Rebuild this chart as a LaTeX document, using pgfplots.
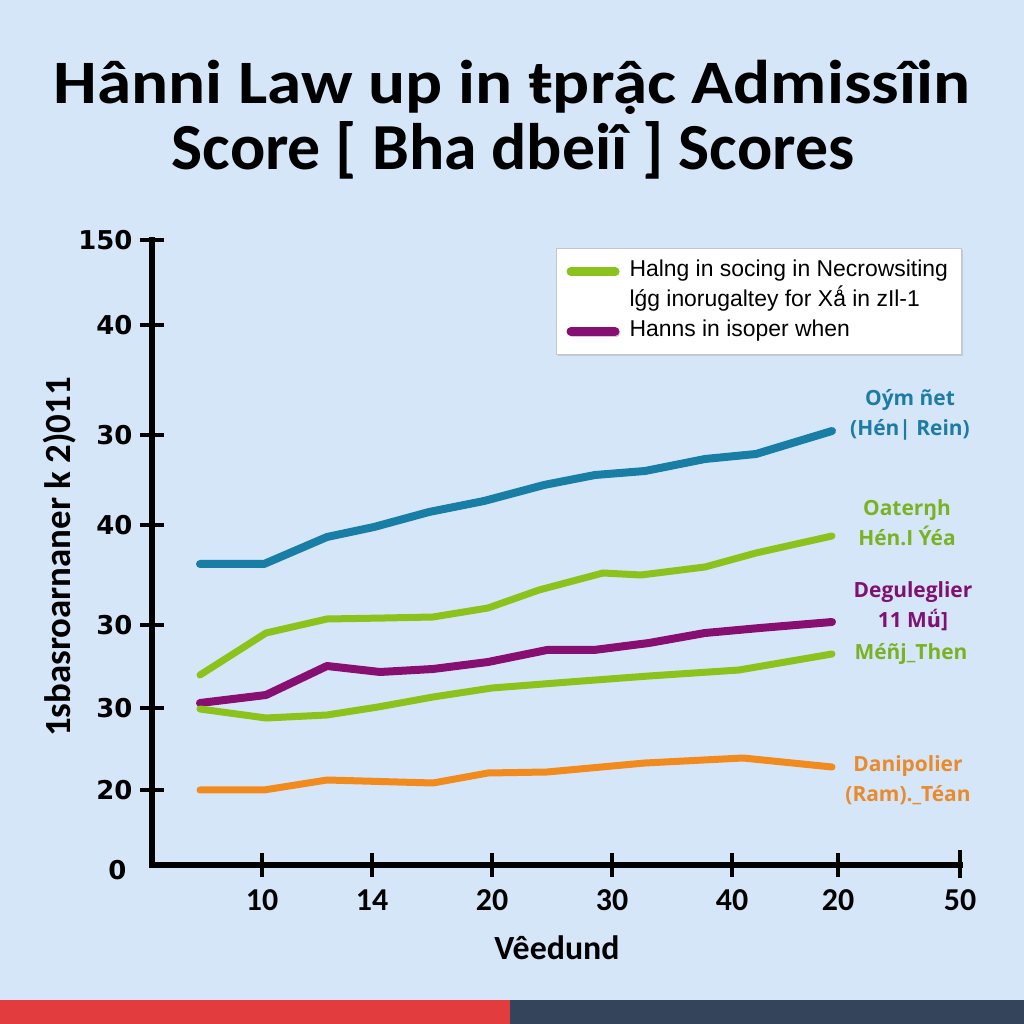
\documentclass[border=0pt]{standalone}
\usepackage{pgfplots}
\pgfplotsset{compat=1.18}
\usepackage{pgfplotstable}
\usepackage{fontspec}
\setmainfont{Carlito}
\newfontfamily\dejavu{DejaVu Sans}
\newfontfamily\legfont{Liberation Sans}
\newfontfamily\labfont{Open Sans}
\usetikzlibrary{shadows}
\definecolor{bg}{HTML}{D4E6F8}
\definecolor{cblue}{HTML}{187EA6}
\definecolor{cgreen}{HTML}{8CC21C}
\definecolor{cpurple}{HTML}{880F72}
\definecolor{corange}{HTML}{F28B1E}
\definecolor{lblue}{HTML}{1E7CA4}
\definecolor{lgreen}{HTML}{7BB224}
\definecolor{lpurple}{HTML}{7E1171}
\definecolor{lorange}{HTML}{E98A2C}
\definecolor{cred}{HTML}{E23C3F}
\definecolor{cslate}{HTML}{34455B}

\pgfplotstableread{
x y
200 460
264 460
327 487
374 497
429 512
484 523
544 539
595 549
645 553
705 565
756 570
832 593
}\tblue
\pgfplotstableread{
x y
200 349
266 391
327 405
385 406
433 407
488 416
539 434
603 451
641 449
705 457
756 471
832 488
}\tgreenA
\pgfplotstableread{
x y
200 321
266 329
327 358
380 352
433 355
488 362
547 374
594 374
649 381
705 391
760 396
832 402
}\tpurple
\pgfplotstableread{
x y
200 315
266 306
327 309
378 317
433 327
492 336
569 342
649 348
739 354
832 370
}\tgreenB
\pgfplotstableread{
x y
200 234
264 234
327 244
433 241
488 251
547 252
645 261
743 266
832 257
}\torange

\begin{document}
\begin{tikzpicture}[x=1bp,y=1bp]
\fill[bg] (0,0) rectangle (1024,1024);
\fill[cred] (0,0) rectangle (510,24);
\fill[cslate] (510,0) rectangle (1024,24);
\node[font=\bfseries\fontsize{62}{62}\selectfont, anchor=base, inner sep=0pt] at (512,920) {\scalebox{1.12}[1]{Hânni Law up in ŧprậc Admissîin}};
\node[font=\bfseries\fontsize{66}{66}\selectfont, anchor=base, inner sep=0pt] at (513,854) {Score [ Bha dbeiî ] Scores};
\begin{axis}[
  at={(152,159)}, anchor=south west,
  x=1bp, y=1bp,
  xmin=152, xmax=960, ymin=159, ymax=784,
  axis lines=left,
  axis line style={-, line width=5.5bp, line cap=rect, black},
  clip=false,
  xtick={262,372,492,612,732,838,960},
  xticklabels={10,14,20,30,40,20,50},
  ytick={234,316,399,499,589,699,784},
  yticklabels={20,30,30,40,30,40,150},
  tick align=center,
  major tick length=24bp,
  tick style={line width=4.5bp, black},
  xticklabel style={font=\bfseries\fontsize{32}{32}\selectfont, yshift=-9bp},
  yticklabel style={font=\dejavu\bfseries\fontsize{26}{26}\selectfont, xshift=-4bp},
  legend style={at={(axis cs:556,776)}, anchor=north west, fill=white, draw=gray!45, line width=1bp,
    inner xsep=10bp, inner ysep=8bp, row sep=0bp, column sep=6bp,
    drop shadow={shadow xshift=1bp, shadow yshift=-1.5bp, opacity=0.25},
    nodes={font=\legfont\fontsize{23}{23}\selectfont, text height=17bp, text depth=6bp, inner xsep=4bp, inner ysep=3.5bp}},
  legend cell align=left,
  legend image code/.code={\draw[#1, line width=9bp, line cap=round] (0bp,0bp) -- (44bp,0bp);},
  every axis plot/.append style={line join=round, line cap=round},
]
\addplot[cblue, line width=8bp, forget plot] table {\tblue};
\addplot[cgreen, line width=7bp] table {\tgreenA};
\addlegendentry{Halng in socing in Necrowsiting}
\addlegendimage{empty legend}
\addlegendentry{lǵg inorugaltey for Xǻ in zIl-1}
\addplot[cpurple, line width=8bp] table {\tpurple};
\addlegendentry{Hanns in isoper when}
\addplot[cgreen, line width=7bp, forget plot] table {\tgreenB};
\addplot[corange, line width=7bp, forget plot] table {\torange};
\draw[line width=4.5bp] (axis cs:960,146) -- (axis cs:960,174);
\node[font=\labfont\bfseries\fontsize{21}{30}\selectfont, text=lblue, align=center] at (axis cs:910,609) {Oým ñet\\(Hén| Rein)};
\node[font=\labfont\bfseries\fontsize{21}{30}\selectfont, text=lgreen, align=center] at (axis cs:907,501) {Oaterŋh\\Hén.I Ýéa};
\node[font=\labfont\bfseries\fontsize{21}{30}\selectfont, text=lpurple, align=center] at (axis cs:913,418) {Deguleglier\\11 M{\dejavu\bfseries\fontsize{20}{30}\selectfont ǘ}]};
\node[font=\labfont\bfseries\fontsize{21}{30}\selectfont, text=lgreen, align=center] at (axis cs:911,370) {Méñj\_Then};
\node[font=\labfont\bfseries\fontsize{21}{30}\selectfont, text=lorange, align=center] at (axis cs:908,244) {Danipolier\\(Ram).\_Téan};
\end{axis}
\node[font=\dejavu\bfseries\fontsize{26}{26}\selectfont, anchor=east] at (130,154) {0};
\node[rotate=90, font=\bfseries\fontsize{37}{37}\selectfont] at (60,467) {1sbasroarnaner k 2)011};
\node[font=\bfseries\fontsize{34}{34}\selectfont] at (557,76) {Vêedund};
\pgfresetboundingbox
\path[use as bounding box] (0,0) rectangle (1024,1024);
\end{tikzpicture}
\end{document}
